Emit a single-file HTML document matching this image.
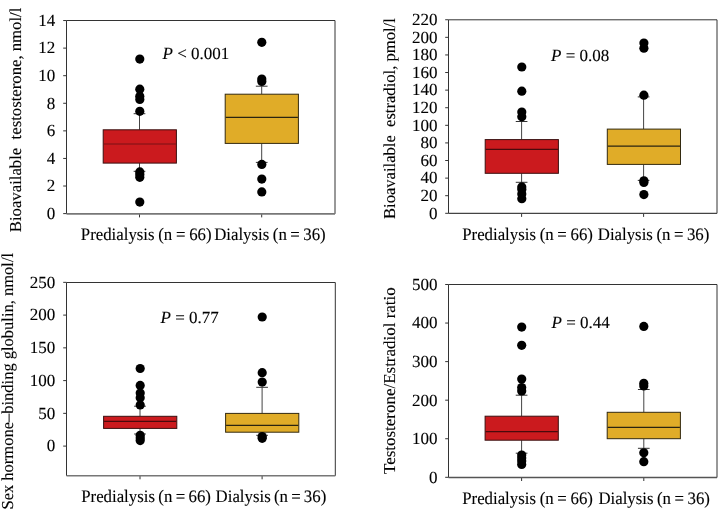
<!DOCTYPE html>
<html><head><meta charset="utf-8"><style>
html,body{margin:0;padding:0;background:#fff;}
body{width:719px;height:510px;overflow:hidden;}
svg{display:block;font-family:"Liberation Serif", serif;will-change:transform;}
text{fill:#000;stroke:#000;stroke-width:0.12px;}
</style></head><body>
<svg width="719" height="510" viewBox="0 0 719 510" text-rendering="geometricPrecision">
<line x1="63.20" y1="213.60" x2="66.50" y2="213.60" stroke="#333" stroke-width="1.0"/>
<text x="55.30" y="218.95" font-size="17" text-anchor="end" >0</text>
<line x1="63.20" y1="186.02" x2="66.50" y2="186.02" stroke="#333" stroke-width="1.0"/>
<text x="55.30" y="191.37" font-size="17" text-anchor="end" >2</text>
<line x1="63.20" y1="158.44" x2="66.50" y2="158.44" stroke="#333" stroke-width="1.0"/>
<text x="55.30" y="163.79" font-size="17" text-anchor="end" >4</text>
<line x1="63.20" y1="130.86" x2="66.50" y2="130.86" stroke="#333" stroke-width="1.0"/>
<text x="55.30" y="136.21" font-size="17" text-anchor="end" >6</text>
<line x1="63.20" y1="103.28" x2="66.50" y2="103.28" stroke="#333" stroke-width="1.0"/>
<text x="55.30" y="108.63" font-size="17" text-anchor="end" >8</text>
<line x1="63.20" y1="75.70" x2="66.50" y2="75.70" stroke="#333" stroke-width="1.0"/>
<text x="55.30" y="81.05" font-size="17" text-anchor="end" >10</text>
<line x1="63.20" y1="48.12" x2="66.50" y2="48.12" stroke="#333" stroke-width="1.0"/>
<text x="55.30" y="53.47" font-size="17" text-anchor="end" >12</text>
<line x1="63.20" y1="20.54" x2="66.50" y2="20.54" stroke="#333" stroke-width="1.0"/>
<text x="55.30" y="25.89" font-size="17" text-anchor="end" >14</text>
<line x1="139.50" y1="213.90" x2="139.50" y2="217.40" stroke="#333" stroke-width="1.0"/>
<line x1="139.50" y1="113.70" x2="139.50" y2="129.80" stroke="#444" stroke-width="1.0"/>
<line x1="139.50" y1="163.10" x2="139.50" y2="171.30" stroke="#444" stroke-width="1.0"/>
<line x1="133.65" y1="113.70" x2="145.35" y2="113.70" stroke="#333" stroke-width="1.0"/>
<line x1="133.65" y1="171.30" x2="145.35" y2="171.30" stroke="#333" stroke-width="1.0"/>
<rect x="103.20" y="129.80" width="73.20" height="33.30" fill="#cb1a1e" stroke="#3a1010" stroke-width="1.0"/>
<line x1="103.70" y1="144.00" x2="175.90" y2="144.00" stroke="#7a1014" stroke-width="1.2"/>
<circle cx="139.80" cy="59.10" r="4.6" fill="#000"/>
<circle cx="139.80" cy="89.20" r="4.6" fill="#000"/>
<circle cx="139.80" cy="96.20" r="4.6" fill="#000"/>
<circle cx="139.80" cy="99.40" r="4.6" fill="#000"/>
<circle cx="139.80" cy="111.30" r="4.6" fill="#000"/>
<circle cx="139.80" cy="171.90" r="4.6" fill="#000"/>
<circle cx="139.80" cy="174.60" r="4.6" fill="#000"/>
<circle cx="139.80" cy="177.30" r="4.6" fill="#000"/>
<circle cx="139.80" cy="202.10" r="4.6" fill="#000"/>
<line x1="261.70" y1="213.90" x2="261.70" y2="217.40" stroke="#333" stroke-width="1.0"/>
<line x1="261.70" y1="86.20" x2="261.70" y2="94.20" stroke="#444" stroke-width="1.0"/>
<line x1="261.70" y1="143.40" x2="261.70" y2="162.40" stroke="#444" stroke-width="1.0"/>
<line x1="255.85" y1="86.20" x2="267.55" y2="86.20" stroke="#333" stroke-width="1.0"/>
<line x1="255.85" y1="162.40" x2="267.55" y2="162.40" stroke="#333" stroke-width="1.0"/>
<rect x="225.20" y="94.20" width="73.20" height="49.20" fill="#e0ac28" stroke="#332a10" stroke-width="1.0"/>
<line x1="225.70" y1="117.30" x2="297.90" y2="117.30" stroke="#2b2410" stroke-width="1.2"/>
<circle cx="261.80" cy="42.30" r="4.6" fill="#000"/>
<circle cx="261.80" cy="79.00" r="4.6" fill="#000"/>
<circle cx="261.80" cy="81.50" r="4.6" fill="#000"/>
<circle cx="261.80" cy="164.40" r="4.6" fill="#000"/>
<circle cx="261.80" cy="179.10" r="4.6" fill="#000"/>
<circle cx="261.80" cy="191.90" r="4.6" fill="#000"/>
<line x1="66.50" y1="20.50" x2="335.00" y2="20.50" stroke="#333" stroke-width="1.0"/>
<line x1="66.50" y1="20.50" x2="66.50" y2="213.90" stroke="#333" stroke-width="1.0"/>
<line x1="335.00" y1="20.50" x2="335.00" y2="213.90" stroke="#333" stroke-width="1.0"/>
<line x1="66.50" y1="213.90" x2="335.00" y2="213.90" stroke="#777" stroke-width="1.6"/>
<line x1="445.20" y1="213.30" x2="448.50" y2="213.30" stroke="#333" stroke-width="1.0"/>
<text x="437.50" y="218.65" font-size="17" text-anchor="end" >0</text>
<line x1="445.20" y1="195.70" x2="448.50" y2="195.70" stroke="#333" stroke-width="1.0"/>
<text x="437.50" y="201.05" font-size="17" text-anchor="end" >20</text>
<line x1="445.20" y1="178.11" x2="448.50" y2="178.11" stroke="#333" stroke-width="1.0"/>
<text x="437.50" y="183.46" font-size="17" text-anchor="end" >40</text>
<line x1="445.20" y1="160.51" x2="448.50" y2="160.51" stroke="#333" stroke-width="1.0"/>
<text x="437.50" y="165.86" font-size="17" text-anchor="end" >60</text>
<line x1="445.20" y1="142.92" x2="448.50" y2="142.92" stroke="#333" stroke-width="1.0"/>
<text x="437.50" y="148.27" font-size="17" text-anchor="end" >80</text>
<line x1="445.20" y1="125.32" x2="448.50" y2="125.32" stroke="#333" stroke-width="1.0"/>
<text x="437.50" y="130.67" font-size="17" text-anchor="end" >100</text>
<line x1="445.20" y1="107.72" x2="448.50" y2="107.72" stroke="#333" stroke-width="1.0"/>
<text x="437.50" y="113.07" font-size="17" text-anchor="end" >120</text>
<line x1="445.20" y1="90.13" x2="448.50" y2="90.13" stroke="#333" stroke-width="1.0"/>
<text x="437.50" y="95.48" font-size="17" text-anchor="end" >140</text>
<line x1="445.20" y1="72.53" x2="448.50" y2="72.53" stroke="#333" stroke-width="1.0"/>
<text x="437.50" y="77.88" font-size="17" text-anchor="end" >160</text>
<line x1="445.20" y1="54.94" x2="448.50" y2="54.94" stroke="#333" stroke-width="1.0"/>
<text x="437.50" y="60.29" font-size="17" text-anchor="end" >180</text>
<line x1="445.20" y1="37.34" x2="448.50" y2="37.34" stroke="#333" stroke-width="1.0"/>
<text x="437.50" y="42.69" font-size="17" text-anchor="end" >200</text>
<line x1="445.20" y1="19.74" x2="448.50" y2="19.74" stroke="#333" stroke-width="1.0"/>
<text x="437.50" y="25.09" font-size="17" text-anchor="end" >220</text>
<line x1="521.60" y1="213.40" x2="521.60" y2="216.90" stroke="#333" stroke-width="1.0"/>
<line x1="521.60" y1="121.50" x2="521.60" y2="139.60" stroke="#444" stroke-width="1.0"/>
<line x1="521.60" y1="173.30" x2="521.60" y2="182.30" stroke="#444" stroke-width="1.0"/>
<line x1="515.75" y1="121.50" x2="527.45" y2="121.50" stroke="#333" stroke-width="1.0"/>
<line x1="515.75" y1="182.30" x2="527.45" y2="182.30" stroke="#333" stroke-width="1.0"/>
<rect x="485.20" y="139.60" width="73.20" height="33.70" fill="#cb1a1e" stroke="#3a1010" stroke-width="1.0"/>
<line x1="485.70" y1="149.40" x2="557.90" y2="149.40" stroke="#4a0a0c" stroke-width="1.2"/>
<circle cx="521.80" cy="67.00" r="4.6" fill="#000"/>
<circle cx="521.80" cy="91.20" r="4.6" fill="#000"/>
<circle cx="521.80" cy="112.10" r="4.6" fill="#000"/>
<circle cx="521.80" cy="116.80" r="4.6" fill="#000"/>
<circle cx="521.80" cy="186.90" r="4.6" fill="#000"/>
<circle cx="521.80" cy="189.50" r="4.6" fill="#000"/>
<circle cx="521.80" cy="194.00" r="4.6" fill="#000"/>
<circle cx="521.80" cy="198.70" r="4.6" fill="#000"/>
<line x1="643.60" y1="213.40" x2="643.60" y2="216.90" stroke="#333" stroke-width="1.0"/>
<line x1="643.60" y1="96.90" x2="643.60" y2="129.10" stroke="#444" stroke-width="1.0"/>
<line x1="643.60" y1="164.40" x2="643.60" y2="180.40" stroke="#444" stroke-width="1.0"/>
<line x1="637.75" y1="96.90" x2="649.45" y2="96.90" stroke="#333" stroke-width="1.0"/>
<line x1="637.75" y1="180.40" x2="649.45" y2="180.40" stroke="#333" stroke-width="1.0"/>
<rect x="607.30" y="129.10" width="73.20" height="35.30" fill="#e0ac28" stroke="#332a10" stroke-width="1.0"/>
<line x1="607.80" y1="146.10" x2="680.00" y2="146.10" stroke="#2b2410" stroke-width="1.2"/>
<circle cx="643.90" cy="43.00" r="4.6" fill="#000"/>
<circle cx="643.90" cy="48.20" r="4.6" fill="#000"/>
<circle cx="643.90" cy="95.20" r="4.6" fill="#000"/>
<circle cx="643.90" cy="180.80" r="4.6" fill="#000"/>
<circle cx="643.90" cy="182.40" r="4.6" fill="#000"/>
<circle cx="643.90" cy="194.60" r="4.6" fill="#000"/>
<line x1="448.50" y1="19.80" x2="717.00" y2="19.80" stroke="#333" stroke-width="1.0"/>
<line x1="448.50" y1="19.80" x2="448.50" y2="213.40" stroke="#333" stroke-width="1.0"/>
<line x1="717.00" y1="19.80" x2="717.00" y2="213.40" stroke="#333" stroke-width="1.0"/>
<line x1="448.50" y1="213.40" x2="717.00" y2="213.40" stroke="#444" stroke-width="1.2"/>
<line x1="63.20" y1="446.10" x2="66.50" y2="446.10" stroke="#333" stroke-width="1.0"/>
<text x="55.30" y="451.45" font-size="17" text-anchor="end" >0</text>
<line x1="63.20" y1="413.35" x2="66.50" y2="413.35" stroke="#333" stroke-width="1.0"/>
<text x="55.30" y="418.70" font-size="17" text-anchor="end" >50</text>
<line x1="63.20" y1="380.60" x2="66.50" y2="380.60" stroke="#333" stroke-width="1.0"/>
<text x="55.30" y="385.95" font-size="17" text-anchor="end" >100</text>
<line x1="63.20" y1="347.85" x2="66.50" y2="347.85" stroke="#333" stroke-width="1.0"/>
<text x="55.30" y="353.20" font-size="17" text-anchor="end" >150</text>
<line x1="63.20" y1="315.10" x2="66.50" y2="315.10" stroke="#333" stroke-width="1.0"/>
<text x="55.30" y="320.45" font-size="17" text-anchor="end" >200</text>
<line x1="63.20" y1="282.35" x2="66.50" y2="282.35" stroke="#333" stroke-width="1.0"/>
<text x="55.30" y="287.70" font-size="17" text-anchor="end" >250</text>
<line x1="140.00" y1="475.80" x2="140.00" y2="479.30" stroke="#333" stroke-width="1.0"/>
<line x1="140.00" y1="406.20" x2="140.00" y2="416.30" stroke="#444" stroke-width="1.0"/>
<line x1="140.00" y1="428.40" x2="140.00" y2="434.00" stroke="#444" stroke-width="1.0"/>
<line x1="134.15" y1="406.20" x2="145.85" y2="406.20" stroke="#333" stroke-width="1.0"/>
<line x1="134.15" y1="434.00" x2="145.85" y2="434.00" stroke="#333" stroke-width="1.0"/>
<rect x="103.60" y="416.30" width="73.20" height="12.10" fill="#cb1a1e" stroke="#3a1010" stroke-width="1.0"/>
<line x1="104.10" y1="421.30" x2="176.30" y2="421.30" stroke="#4a0a0c" stroke-width="1.2"/>
<circle cx="140.20" cy="368.50" r="4.6" fill="#000"/>
<circle cx="140.20" cy="385.40" r="4.6" fill="#000"/>
<circle cx="140.20" cy="393.00" r="4.6" fill="#000"/>
<circle cx="140.20" cy="397.70" r="4.6" fill="#000"/>
<circle cx="140.20" cy="404.90" r="4.6" fill="#000"/>
<circle cx="140.20" cy="435.30" r="4.6" fill="#000"/>
<circle cx="140.20" cy="438.00" r="4.6" fill="#000"/>
<circle cx="140.20" cy="440.60" r="4.6" fill="#000"/>
<line x1="262.10" y1="475.80" x2="262.10" y2="479.30" stroke="#333" stroke-width="1.0"/>
<line x1="262.10" y1="387.30" x2="262.10" y2="413.40" stroke="#444" stroke-width="1.0"/>
<line x1="262.10" y1="432.20" x2="262.10" y2="435.30" stroke="#444" stroke-width="1.0"/>
<line x1="256.25" y1="387.30" x2="267.95" y2="387.30" stroke="#333" stroke-width="1.0"/>
<line x1="256.25" y1="435.30" x2="267.95" y2="435.30" stroke="#333" stroke-width="1.0"/>
<rect x="225.60" y="413.40" width="73.20" height="18.80" fill="#e0ac28" stroke="#332a10" stroke-width="1.0"/>
<line x1="226.10" y1="425.30" x2="298.30" y2="425.30" stroke="#2b2410" stroke-width="1.2"/>
<circle cx="262.20" cy="317.00" r="4.6" fill="#000"/>
<circle cx="262.20" cy="372.70" r="4.6" fill="#000"/>
<circle cx="262.20" cy="382.10" r="4.6" fill="#000"/>
<circle cx="262.20" cy="436.50" r="4.6" fill="#000"/>
<circle cx="262.20" cy="438.30" r="4.6" fill="#000"/>
<line x1="66.50" y1="282.50" x2="335.30" y2="282.50" stroke="#333" stroke-width="1.0"/>
<line x1="66.50" y1="282.50" x2="66.50" y2="475.80" stroke="#333" stroke-width="1.0"/>
<line x1="335.30" y1="282.50" x2="335.30" y2="475.80" stroke="#333" stroke-width="1.0"/>
<line x1="66.50" y1="475.80" x2="335.30" y2="475.80" stroke="#777" stroke-width="1.6"/>
<line x1="445.20" y1="477.30" x2="448.50" y2="477.30" stroke="#333" stroke-width="1.0"/>
<text x="437.50" y="482.65" font-size="17" text-anchor="end" >0</text>
<line x1="445.20" y1="438.74" x2="448.50" y2="438.74" stroke="#333" stroke-width="1.0"/>
<text x="437.50" y="444.09" font-size="17" text-anchor="end" >100</text>
<line x1="445.20" y1="400.18" x2="448.50" y2="400.18" stroke="#333" stroke-width="1.0"/>
<text x="437.50" y="405.53" font-size="17" text-anchor="end" >200</text>
<line x1="445.20" y1="361.62" x2="448.50" y2="361.62" stroke="#333" stroke-width="1.0"/>
<text x="437.50" y="366.97" font-size="17" text-anchor="end" >300</text>
<line x1="445.20" y1="323.06" x2="448.50" y2="323.06" stroke="#333" stroke-width="1.0"/>
<text x="437.50" y="328.41" font-size="17" text-anchor="end" >400</text>
<line x1="445.20" y1="284.50" x2="448.50" y2="284.50" stroke="#333" stroke-width="1.0"/>
<text x="437.50" y="289.85" font-size="17" text-anchor="end" >500</text>
<line x1="521.60" y1="477.50" x2="521.60" y2="481.00" stroke="#333" stroke-width="1.0"/>
<line x1="521.60" y1="395.20" x2="521.60" y2="416.20" stroke="#444" stroke-width="1.0"/>
<line x1="521.60" y1="440.20" x2="521.60" y2="453.20" stroke="#444" stroke-width="1.0"/>
<line x1="515.75" y1="395.20" x2="527.45" y2="395.20" stroke="#333" stroke-width="1.0"/>
<line x1="515.75" y1="453.20" x2="527.45" y2="453.20" stroke="#333" stroke-width="1.0"/>
<rect x="485.10" y="416.20" width="73.20" height="24.00" fill="#cb1a1e" stroke="#3a1010" stroke-width="1.0"/>
<line x1="485.60" y1="431.70" x2="557.80" y2="431.70" stroke="#4a0a0c" stroke-width="1.2"/>
<circle cx="521.70" cy="327.10" r="4.6" fill="#000"/>
<circle cx="521.70" cy="345.30" r="4.6" fill="#000"/>
<circle cx="521.70" cy="379.10" r="4.6" fill="#000"/>
<circle cx="521.70" cy="387.50" r="4.6" fill="#000"/>
<circle cx="521.70" cy="391.00" r="4.6" fill="#000"/>
<circle cx="521.70" cy="455.10" r="4.6" fill="#000"/>
<circle cx="521.70" cy="458.00" r="4.6" fill="#000"/>
<circle cx="521.70" cy="461.00" r="4.6" fill="#000"/>
<circle cx="521.70" cy="464.40" r="4.6" fill="#000"/>
<line x1="643.80" y1="477.50" x2="643.80" y2="481.00" stroke="#333" stroke-width="1.0"/>
<line x1="643.80" y1="389.50" x2="643.80" y2="412.30" stroke="#444" stroke-width="1.0"/>
<line x1="643.80" y1="438.70" x2="643.80" y2="448.30" stroke="#444" stroke-width="1.0"/>
<line x1="637.95" y1="389.50" x2="649.65" y2="389.50" stroke="#333" stroke-width="1.0"/>
<line x1="637.95" y1="448.30" x2="649.65" y2="448.30" stroke="#333" stroke-width="1.0"/>
<rect x="607.20" y="412.30" width="73.20" height="26.40" fill="#e0ac28" stroke="#332a10" stroke-width="1.0"/>
<line x1="607.70" y1="427.40" x2="679.90" y2="427.40" stroke="#2b2410" stroke-width="1.2"/>
<circle cx="643.80" cy="326.40" r="4.6" fill="#000"/>
<circle cx="643.80" cy="383.30" r="4.6" fill="#000"/>
<circle cx="643.80" cy="385.90" r="4.6" fill="#000"/>
<circle cx="643.80" cy="452.80" r="4.6" fill="#000"/>
<circle cx="643.80" cy="461.70" r="4.6" fill="#000"/>
<line x1="448.50" y1="284.50" x2="717.00" y2="284.50" stroke="#333" stroke-width="1.0"/>
<line x1="448.50" y1="284.50" x2="448.50" y2="477.50" stroke="#333" stroke-width="1.0"/>
<line x1="717.00" y1="284.50" x2="717.00" y2="477.50" stroke="#333" stroke-width="1.0"/>
<line x1="448.50" y1="477.50" x2="717.00" y2="477.50" stroke="#555" stroke-width="1.3"/>
<text x="0" y="0" font-size="17.5" transform="translate(80.80,239.50) scale(0.96,1)" text-rendering="geometricPrecision" style="word-spacing:-0.5px">Predialysis (n = 66)</text>
<text x="0" y="0" font-size="17.5" transform="translate(214.20,239.50) scale(0.96,1)" text-rendering="geometricPrecision" style="word-spacing:-0.7px">Dialysis (n = 36)</text>
<text x="0" y="0" font-size="17.5" transform="translate(462.20,239.50) scale(0.96,1)" text-rendering="geometricPrecision" style="word-spacing:-0.5px">Predialysis (n = 66)</text>
<text x="0" y="0" font-size="17.5" transform="translate(597.80,239.50) scale(0.96,1)" text-rendering="geometricPrecision" style="word-spacing:-0.7px">Dialysis (n = 36)</text>
<text x="0" y="0" font-size="17.5" transform="translate(81.20,501.70) scale(0.96,1)" text-rendering="geometricPrecision" style="word-spacing:-0.85px">Predialysis (n = 66)</text>
<text x="0" y="0" font-size="17.5" transform="translate(215.60,501.70) scale(0.96,1)" text-rendering="geometricPrecision" style="word-spacing:-1.0px">Dialysis (n = 36)</text>
<text x="0" y="0" font-size="17.5" transform="translate(462.20,503.50) scale(0.96,1)" text-rendering="geometricPrecision" style="word-spacing:-0.5px">Predialysis (n = 66)</text>
<text x="0" y="0" font-size="17.5" transform="translate(598.40,503.50) scale(0.96,1)" text-rendering="geometricPrecision" style="word-spacing:-0.7px">Dialysis (n = 36)</text>
<text x="162.50" y="58.90" font-size="17" text-anchor="start" ><tspan font-style="italic">P</tspan> &lt; 0.001</text>
<text x="551.00" y="60.60" font-size="17" text-anchor="start" ><tspan font-style="italic">P</tspan> = 0.08</text>
<text x="160.60" y="323.40" font-size="17" text-anchor="start" ><tspan font-style="italic">P</tspan> = 0.77</text>
<text x="551.60" y="327.60" font-size="17" text-anchor="start" ><tspan font-style="italic">P</tspan> = 0.44</text>
<text x="0" y="0" font-size="16.7" text-anchor="middle" textLength="224.60" lengthAdjust="spacingAndGlyphs" transform="translate(21.20,119.90) rotate(-90)" xml:space="preserve" style="white-space:pre">Bioavailable  testosterone, nmol/l</text>
<text x="0" y="0" font-size="16.7" text-anchor="middle" textLength="200.80" lengthAdjust="spacingAndGlyphs" transform="translate(394.70,118.65) rotate(-90)" xml:space="preserve" style="white-space:pre">Bioavailable  estradiol, pmol/l</text>
<text x="0" y="0" font-size="16.7" text-anchor="middle" textLength="256.60" lengthAdjust="spacingAndGlyphs" transform="translate(13.20,381.20) rotate(-90)" xml:space="preserve" style="white-space:pre">Sex hormone&#8211;binding globulin, nmol/l</text>
<text x="0" y="0" font-size="16.7" text-anchor="middle" textLength="186.80" lengthAdjust="spacingAndGlyphs" transform="translate(394.70,380.65) rotate(-90)" xml:space="preserve" style="white-space:pre">Testosterone/Estradiol ratio</text>
</svg>
</body></html>
